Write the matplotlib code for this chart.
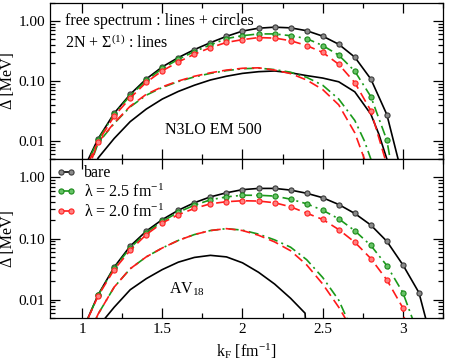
import matplotlib
matplotlib.use("Agg")
import matplotlib.pyplot as plt
from matplotlib.ticker import LogLocator, FixedLocator, FixedFormatter, MultipleLocator, NullFormatter

plt.rcParams['font.family'] = ['Liberation Serif', 'DejaVu Serif']
plt.rcParams['mathtext.fontset'] = 'custom'
plt.rcParams['mathtext.rm'] = 'Liberation Serif'
plt.rcParams['mathtext.it'] = 'Liberation Serif:italic'

# ---------------- data: top panel (N3LO EM 500) ----------------
kf_pts_top = [1.0, 1.1, 1.2, 1.3, 1.4, 1.5, 1.6, 1.7, 1.8, 1.9, 2.0,
              2.1, 2.2, 2.3, 2.4, 2.5, 2.6, 2.7, 2.8, 2.9, 3.0]
top_bare_free = [0.003, 0.0109, 0.029, 0.060, 0.108, 0.172, 0.246, 0.334, 0.436, 0.555, 0.68,
                 0.76, 0.79, 0.77, 0.69, 0.56, 0.41, 0.25, 0.108, 0.0275, 0.0024]
top_l25_free = [0.0028, 0.0104, 0.028, 0.057, 0.102, 0.162, 0.23, 0.31, 0.40, 0.51, 0.57,
                0.61, 0.61, 0.57, 0.51, 0.39, 0.27, 0.146, 0.055, 0.0103, 0.0003]
top_l20_free = [0.0026, 0.0097, 0.026, 0.052, 0.095, 0.148, 0.208, 0.28, 0.36, 0.44, 0.49,
                0.53, 0.52, 0.47, 0.39, 0.30, 0.19, 0.094, 0.032, 0.004, 0.0001]

kf_top_bare_line = [1.05, 1.1, 1.2, 1.3, 1.4, 1.5, 1.6, 1.7, 1.8, 1.9, 2.0, 2.1, 2.2,
                    2.3, 2.4, 2.5, 2.6, 2.7, 2.8, 2.85, 2.9, 2.95]
top_bare_line = [0.0025, 0.0052, 0.011, 0.021, 0.034, 0.050, 0.067, 0.085, 0.104, 0.12, 0.134,
                 0.143, 0.147, 0.137, 0.123, 0.112, 0.097, 0.066, 0.028, 0.013, 0.005, 0.001]
kf_top_l_line = [1.03, 1.1, 1.2, 1.3, 1.4, 1.5, 1.6, 1.7, 1.8, 1.9, 2.0, 2.1, 2.2,
                 2.3, 2.4, 2.5, 2.6, 2.7, 2.76, 2.8, 2.85]
top_l25_line = [0.0028, 0.0092, 0.0196, 0.037, 0.058, 0.078, 0.098, 0.117, 0.134, 0.149, 0.160,
                0.164, 0.155, 0.14, 0.115, 0.085, 0.05, 0.022, 0.01, 0.005, 0.001]
top_l20_line = [0.003, 0.0095, 0.020, 0.038, 0.060, 0.080, 0.10, 0.12, 0.137, 0.152, 0.163,
                0.166, 0.152, 0.133, 0.104, 0.072, 0.040, 0.0137, 0.005, 0.0015, 0.0003]

# ---------------- data: bottom panel (AV18) ----------------
kf_pts_bot = [1.0, 1.1, 1.2, 1.3, 1.4, 1.5, 1.6, 1.7, 1.8, 1.9, 2.0, 2.1,
              2.2, 2.3, 2.4, 2.5, 2.6, 2.7, 2.8, 2.9, 3.0, 3.1, 3.2]
bot_bare_free = [0.003, 0.012, 0.034, 0.075, 0.132, 0.204, 0.29, 0.385, 0.48, 0.56, 0.63, 0.66,
                 0.66, 0.62, 0.55, 0.465, 0.36, 0.257, 0.166, 0.09, 0.037, 0.013, 0.0013]
bot_l25_free = [0.003, 0.0118, 0.033, 0.070, 0.125, 0.19, 0.27, 0.35, 0.43, 0.48, 0.51, 0.51,
                0.495, 0.44, 0.37, 0.29, 0.21, 0.134, 0.077, 0.036, 0.013, 0.0025, 0.0002]
bot_l20_free = [0.003, 0.0115, 0.031, 0.064, 0.116, 0.18, 0.245, 0.31, 0.37, 0.40, 0.415, 0.41,
                0.385, 0.33, 0.26, 0.205, 0.14, 0.087, 0.047, 0.021, 0.0073, 0.0001, 0.00001]

kf_bot_l_line = [1.05, 1.1, 1.2, 1.3, 1.4, 1.5, 1.6, 1.7, 1.8, 1.9, 2.0, 2.1,
                 2.2, 2.3, 2.4, 2.5, 2.6, 2.65, 2.7]
bot_l25_line = [0.003, 0.0058, 0.016, 0.032, 0.050, 0.070, 0.093, 0.116, 0.135, 0.145, 0.137, 0.118,
                0.095, 0.072, 0.045, 0.023, 0.0098, 0.005, 0.0015]
bot_l20_line = [0.003, 0.0058, 0.016, 0.032, 0.050, 0.070, 0.093, 0.116, 0.135, 0.145, 0.135, 0.113,
                0.088, 0.063, 0.037, 0.018, 0.0075, 0.0045, 0.001]
kf_bot_bare_line = [1.1, 1.2, 1.3, 1.4, 1.5, 1.6, 1.7, 1.8, 1.9, 2.0, 2.1, 2.2, 2.3, 2.39, 2.42]
bot_bare_line = [0.0036, 0.0075, 0.0145, 0.022, 0.031, 0.041, 0.049, 0.053, 0.050, 0.040, 0.028,
                 0.018, 0.0105, 0.006, 0.0003]

legend_labels = ['bare', 'λ = 2.5 fm$^{-1}$', 'λ = 2.0 fm$^{-1}$']
ytick_vals = [0.01, 0.1, 1.0]
ytick_labels = ['0.01', '0.10', '1.00']
xtick_vals = [1, 1.5, 2, 2.5, 3]
xtick_labels = ['1', '1.5', '2', '2.5', '3']

# ---------------- styles ----------------
BLACK = '#000000'
GREEN = '#1a9a1a'
RED = '#ff1a1a'
dash_red = (0, (6, 3))
dash_green = (0, (6, 2.5, 1.2, 2.5))
lw = 1.2
ms = 3.7
FS_TICK = 11
FS_TEXT = 11.5

fig = plt.figure(figsize=(4.5, 3.64), dpi=100)
ax1 = fig.add_axes([50/450, 1-159/364, 393/450, 156/364])
ax2 = fig.add_axes([50/450, 1-318/364, 393/450, 159/364])


def free(ax, x, y, color, ls, mfc, mec, label=None):
    ax.plot(x, y, color=color, ls=ls, lw=lw, marker='o', ms=ms, mfc=mfc, mec=mec, mew=0.8,
            label=label)


for ax in (ax1, ax2):
    ax.set_yscale('log')
    ax.set_xlim(0.8, 3.25)
    ax.set_ylim(0.005, 2.0)
    ax.yaxis.set_major_locator(FixedLocator(ytick_vals))
    ax.yaxis.set_major_formatter(FixedFormatter(ytick_labels))
    ax.yaxis.set_minor_locator(LogLocator(base=10, subs=range(2, 10)))
    ax.yaxis.set_minor_formatter(NullFormatter())
    ax.xaxis.set_major_locator(FixedLocator(xtick_vals))
    ax.xaxis.set_minor_locator(MultipleLocator(0.25))
    ax.tick_params(which='both', direction='in', top=True, right=True, labelsize=FS_TICK)
    ax.tick_params(which='major', length=7, width=0.9)
    ax.tick_params(which='minor', length=3.5, width=0.9)
    for s in ax.spines.values():
        s.set_linewidth(0.9)
    ax.set_ylabel('Δ [MeV]', fontsize=FS_TEXT, labelpad=2)

# top panel
ax1.plot(kf_top_bare_line, top_bare_line, color=BLACK, lw=lw)
ax1.plot(kf_top_l_line, top_l25_line, color=GREEN, lw=lw, ls=dash_green)
ax1.plot(kf_top_l_line, top_l20_line, color=RED, lw=lw, ls=dash_red)
free(ax1, kf_pts_top, top_bare_free, BLACK, '-', '#8a8a8a', '#3a3a3a')
free(ax1, kf_pts_top, top_l25_free, GREEN, dash_green, '#66c266', '#1a8a1a')
free(ax1, kf_pts_top, top_l20_free, RED, dash_red, '#ff8080', '#ff2020')
ax1.tick_params(axis='x', labelbottom=False)
ax1.text(0.895, 1.02, 'free spectrum : lines + circles', fontsize=FS_TEXT, va='center')
ax1.text(0.895, 0.43, '2N + Σ$^{(1)}$ : lines', fontsize=FS_TEXT, va='center')
ax1.text(1.52, 0.0155, 'N3LO EM 500', fontsize=FS_TEXT, va='center')

# bottom panel
ax2.plot(kf_bot_bare_line, bot_bare_line, color=BLACK, lw=lw)
ax2.plot(kf_bot_l_line, bot_l25_line, color=GREEN, lw=lw, ls=dash_green)
ax2.plot(kf_bot_l_line, bot_l20_line, color=RED, lw=lw, ls=dash_red)
free(ax2, kf_pts_bot, bot_bare_free, BLACK, '-', '#8a8a8a', '#3a3a3a', legend_labels[0])
free(ax2, kf_pts_bot, bot_l25_free, GREEN, dash_green, '#66c266', '#1a8a1a', legend_labels[1])
free(ax2, kf_pts_bot, bot_l20_free, RED, dash_red, '#ff8080', '#ff2020', legend_labels[2])
ax2.xaxis.set_major_formatter(FixedFormatter(xtick_labels))
ax2.set_xlabel(r'k$_\mathregular{F}$ [fm$^{-1}$]', fontsize=FS_TEXT, labelpad=4)
ax2.text(1.54, 0.0146, 'AV$_{18}$', fontsize=FS_TEXT, va='center')
ax2.legend(loc='upper left', frameon=False, fontsize=FS_TEXT, numpoints=2, handlelength=1.2,
           handletextpad=0.5, labelspacing=0.15, borderaxespad=0.3, borderpad=0.1)

fig.savefig('out.png', dpi=100)
